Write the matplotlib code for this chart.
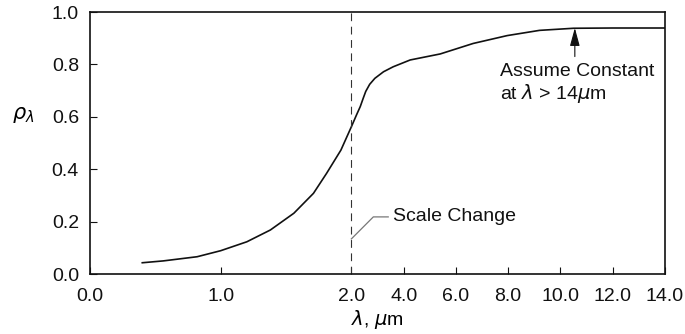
import numpy as np
import matplotlib
matplotlib.use('Agg')
import matplotlib.pyplot as plt

# Spectral reflectance
wavelength = [0.40, 0.56, 0.82, 1.00, 1.20, 1.38, 1.56, 1.71, 1.81, 1.92, 2.00,
              2.20, 2.34, 2.45, 2.55, 2.70, 2.90, 3.23, 3.60, 4.25, 5.40, 6.66,
              7.96, 9.20, 10.50, 12.00, 14.00]
reflectance = [0.043, 0.050, 0.066, 0.089, 0.123, 0.168, 0.232, 0.308, 0.384, 0.473, 0.562,
               0.608, 0.639, 0.670, 0.697, 0.724, 0.747, 0.772, 0.791, 0.817, 0.840, 0.880,
               0.910, 0.930, 0.938, 0.939, 0.939]

x_ticks = [0.0, 1.0, 2.0, 4.0, 6.0, 8.0, 10.0, 12.0, 14.0]
x_tick_labels = ['0.0', '1.0', '2.0', '4.0', '6.0', '8.0', '10.0', '12.0', '14.0']
y_ticks = [0.0, 0.2, 0.4, 0.6, 0.8, 1.0]
y_tick_labels = ['0.0', '0.2', '0.4', '0.6', '0.8', '1.0']

scale_break = 2.0   # axis is compressed 5x beyond this wavelength
compression = 5.0


def forward(x):
    x = np.asarray(x, dtype=float)
    return np.where(x <= scale_break, x, scale_break + (x - scale_break) / compression)


def inverse(u):
    u = np.asarray(u, dtype=float)
    return np.where(u <= scale_break, u, scale_break + (u - scale_break) * compression)


plt.rcParams['font.family'] = ['Liberation Sans', 'DejaVu Sans']
plt.rcParams['mathtext.fontset'] = 'dejavusans'

fig = plt.figure(figsize=(6.85, 3.34), dpi=100)
ax = fig.add_axes([0.1314, 0.1796, 0.8394, 0.7844])

ax.set_xscale('function', functions=(forward, inverse))

# main curve
ax.plot(wavelength, reflectance, color='#111111', linewidth=1.2)

# scale change marker
ax.axvline(scale_break, color='#333333', linewidth=0.8, linestyle=(0, (7, 5)))
ax.plot([2.0, 2.84, 3.41], [0.134, 0.218, 0.218], color='#777777', linewidth=0.9)
ax.text(3.6, 0.218, 'Scale Change', fontsize=14, va='center', ha='left', color='#111111')

# constant beyond 14 um
ax.annotate('', xy=(10.55, 0.939), xytext=(10.55, 0.83),
            arrowprops=dict(arrowstyle='-|>,head_length=1.1,head_width=0.3',
                            color='#111111', linewidth=0.8, shrinkA=0, shrinkB=0))
ax.text(7.69, 0.725, 'Assume Constant\nat $\\lambda$ > 14$\\mu$m', fontsize=14,
        va='center', ha='left', linespacing=1.15, color='#111111')

ax.set_xlim(0, 14)
ax.set_ylim(0, 1.0)
ax.set_xticks(x_ticks)
ax.set_xticklabels(x_tick_labels)
ax.set_yticks(y_ticks)
ax.set_yticklabels(y_tick_labels)
ax.tick_params(axis='both', direction='in', length=5, width=0.8, labelsize=14,
               colors='#111111')
ax.tick_params(axis='x', pad=10)
ax.tick_params(axis='y', pad=8)

for spine in ax.spines.values():
    spine.set_linewidth(1.2)
    spine.set_color('#111111')

ax.set_xlabel('$\\lambda$, $\\mu$m', fontsize=14, labelpad=2)
ax.set_ylabel('$\\rho_\\lambda$', fontsize=15, rotation=0)
ax.yaxis.set_label_coords(-0.117, 0.57)

plt.savefig('out.png', dpi=100)
